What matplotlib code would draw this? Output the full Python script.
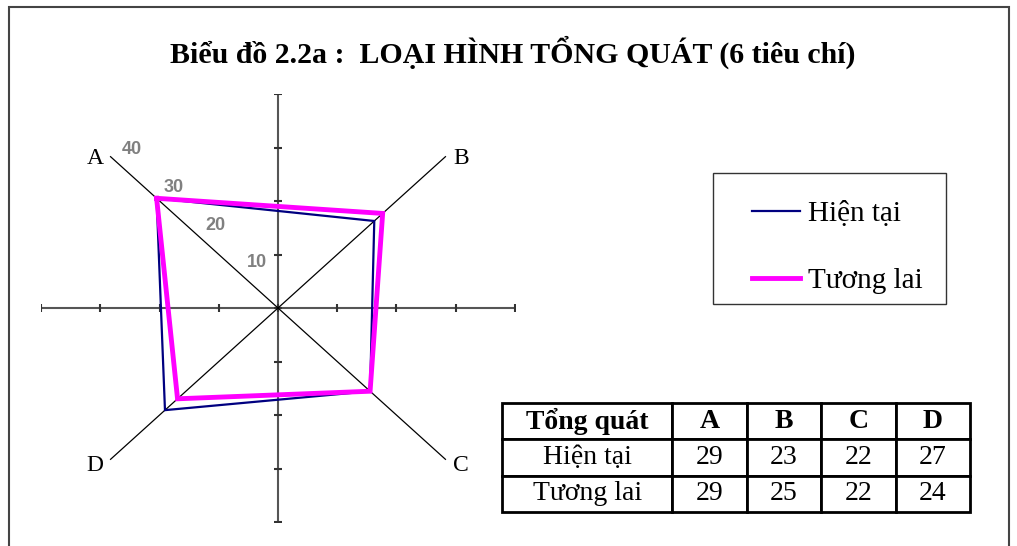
import matplotlib.pyplot as plt
import numpy as np
from matplotlib.patches import Rectangle
from matplotlib.lines import Line2D

plt.rcParams['font.family'] = ['Liberation Serif', 'DejaVu Serif']

# dữ liệu
categories = ['A', 'B', 'C', 'D']
angles_deg = [135, 45, -45, -135]
series_names = ['Hiện tại', 'Tương lai']
hien_tai = [29, 23, 22, 27]
tuong_lai = [29, 25, 22, 24]
radial_ticks = [10, 20, 30, 40]
r_max = 40
title = 'Biểu đồ 2.2a :  LOẠI HÌNH TỔNG QUÁT (6 tiêu chí)'
table_header = ['Tổng quát'] + categories

W, H = 1017, 546
fig = plt.figure(figsize=(W / 100, H / 100), dpi=100)

# khung viền
fig.add_artist(Rectangle((9 / W, -0.05), 1000 / W, 1 - 7 / H + 0.05,
                         transform=fig.transFigure, fill=False,
                         edgecolor='#444444', lw=1.5))

fig.text(513 / W, 1 - 52 / H, title, ha='center', va='center',
         fontsize=21.5, fontweight='bold')

ax = fig.add_axes([41.2 / W, 24 / H, 473.6 / W, 428 / H])
ax.set_xlim(-r_max, r_max)
ax.set_ylim(-r_max, r_max)
ax.axis('off')

# trục ngang / dọc có vạch chia
ticks = np.arange(-r_max, r_max + 1, 10)
ax.plot([-r_max, r_max], [0, 0], color='#555555', lw=1.5, zorder=1)
ax.plot([0, 0], [-r_max, r_max], color='#555555', lw=1.5, zorder=1)
ax.plot(ticks, np.zeros_like(ticks), ls='none', marker='|', ms=6,
        mew=1.5, color='#333333', zorder=1)
ax.plot(np.zeros_like(ticks), ticks, ls='none', marker='_', ms=6,
        mew=1.5, color='#333333', zorder=1)

# các trục chéo A, B, C, D
th = np.deg2rad(angles_deg)
for cat, t in zip(categories, th):
    x, y = r_max * np.cos(t), r_max * np.sin(t)
    ax.plot([0, x], [0, y], color='black', lw=0.9, zorder=2)
    dx = 11 if x > 0 else -11
    dy = -1.4 if y > 0 else -4.2
    ax.annotate(cat, (x, y), xytext=(dx, dy), textcoords='offset points',
                ha='center', va='center', fontsize=17,
                annotation_clip=False)

# nhãn giá trị trên trục A
for v in radial_ticks:
    ax.annotate(str(v), (v * np.cos(th[0]), v * np.sin(th[0])),
                xytext=(15, 5.2), textcoords='offset points',
                ha='center', va='center', fontsize=13, fontweight='bold',
                color='#808080', family='Liberation Sans',
                annotation_clip=False)

colors = ['#000080', '#FF00FF']
widths = [1.6, 3.5]
for vals, c, lw in zip([hien_tai, tuong_lai], colors, widths):
    v = np.array(vals + vals[:1], dtype=float)
    t = np.append(th, th[0])
    ax.plot(v * np.cos(t), v * np.sin(t), color=c, lw=lw, zorder=3,
            solid_joinstyle='miter')

# chú thích
fig.add_artist(Rectangle((713 / W, 1 - 304 / H), 233 / W, 131 / H,
                         transform=fig.transFigure, fill=False,
                         edgecolor='#333333', lw=1.0))
handles = [Line2D([], [], color=c, lw=lw) for c, lw in zip(colors, widths)]
leg = fig.legend(handles, series_names, loc='upper left',
                 bbox_to_anchor=(752 / W, 1 - 201 / H), fontsize=21,
                 frameon=False, handlelength=1.64, handletextpad=0.27,
                 borderpad=0, labelspacing=1.38, borderaxespad=0)

# bảng số liệu
tax = fig.add_axes([502 / W, 34 / H, 468 / W, 109 / H])
tax.axis('off')
rows = [[name] + [str(x) for x in vals]
        for name, vals in zip(series_names, [hien_tai, tuong_lai])]
tbl = tax.table(cellText=rows, colLabels=table_header, cellLoc='center',
                colWidths=[0.364, 0.159, 0.159, 0.159, 0.159],
                bbox=[0, 0, 1, 1])
tbl.auto_set_font_size(False)
tbl.set_fontsize(20)
for (r, c), cell in tbl.get_celld().items():
    cell.set_linewidth(2)
    cell.set_edgecolor('black')
    if r == 0:
        cell.get_text().set_fontweight('bold')

fig.savefig('out.png', dpi=100)
